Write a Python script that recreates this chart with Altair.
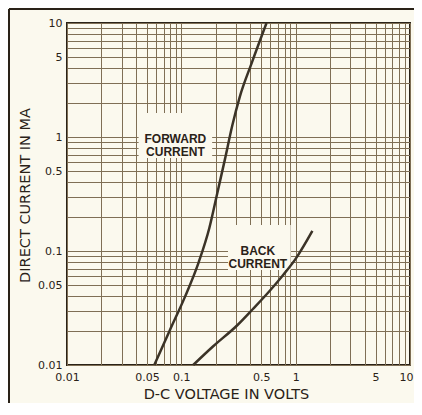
import json
import altair as alt
import pandas as pd

# ---- data ----
forward_v = [0.058, 0.079, 0.108, 0.142, 0.176, 0.206, 0.240, 0.279, 0.324, 0.413, 0.556]
forward_i = [0.01, 0.02, 0.04, 0.08, 0.16, 0.32, 0.63, 1.26, 2.24, 4.47, 10]

back_v = [0.127, 0.19, 0.307, 0.423, 0.594, 0.771, 1.02, 1.4]
back_i = [0.01, 0.0146, 0.0222, 0.031, 0.0448, 0.061, 0.088, 0.15]

grid_values = [0.01, 0.02, 0.03, 0.04, 0.05, 0.06, 0.07, 0.08, 0.09,
               0.1, 0.2, 0.3, 0.4, 0.5, 0.6, 0.7, 0.8, 0.9,
               1, 2, 3, 4, 5, 6, 7, 8, 9, 10]
label_values = [0.01, 0.05, 0.1, 0.5, 1, 5, 10]

label_texts = ["FORWARD\nCURRENT", "BACK\nCURRENT"]
label_x = [0.0887, 0.467]
label_y = [0.97, 0.101]
box_x1 = [0.0423, 0.256]
box_x2 = [0.186, 0.905]
box_y1 = [0.655, 0.068]
box_y2 = [1.62, 0.169]

x_title = "D-C VOLTAGE IN VOLTS"
y_title = "DIRECT CURRENT IN MA"

# ---- styles ----
BG = "#fbf9ee"
INK = "#2a2218"
GRID = "#7f6f55"
CURVE = "#3b3327"
FONT = "DejaVu Sans"

curves = pd.DataFrame({
    "v": forward_v + back_v,
    "i": forward_i + back_i,
    "series": ["forward"] * len(forward_v) + ["back"] * len(back_v),
})
labels = pd.DataFrame({"text": label_texts, "x": label_x, "y": label_y})
boxes = pd.DataFrame({"x1": box_x1, "x2": box_x2, "y1": box_y1, "y2": box_y2})

label_expr = "indexof(" + json.dumps(label_values) + ", datum.value) >= 0 ? '' + datum.value : ''"

xscale = alt.Scale(type="log", domain=[0.01, 10], nice=False)
yscale = alt.Scale(type="log", domain=[0.01, 10], nice=False)

x_axis = alt.Axis(values=grid_values, grid=True, gridColor=GRID, gridWidth=1, gridOpacity=1,
                  ticks=False, domain=False, labelExpr=label_expr, labelOverlap=False,
                  labelFlush=False, labelPadding=6, labelFont=FONT, labelFontSize=11,
                  labelColor=INK,
                  labelAlign={"condition": {"test": "datum.value >= 10", "value": "right"}, "value": "center"},
                  labelOffset={"condition": {"test": "datum.value >= 10", "value": 3}, "value": 0},
                  title=x_title, titleFont=FONT, titleFontSize=14.5,
                  titleFontWeight="normal", titleColor=INK, titleX=159, titleY=29,
                  titleAlign="center", titleBaseline="middle")
y_axis = alt.Axis(values=grid_values, grid=True, gridColor=GRID, gridWidth=1, gridOpacity=1,
                  ticks=False, domain=False, labelExpr=label_expr, labelOverlap=False,
                  labelFlush=False, labelPadding=5, labelFont=FONT, labelFontSize=11,
                  labelColor=INK, title=y_title, titleFont=FONT, titleFontSize=14.5,
                  titleFontWeight="normal", titleColor=INK, titleX=-42, titleY=172,
                  titleAngle=270, titleAlign="center", titleBaseline="middle")

box_layer = alt.Chart(boxes).mark_rect(fill=BG).encode(
    x=alt.X("x1:Q", scale=xscale, axis=x_axis),
    x2="x2:Q",
    y=alt.Y("y1:Q", scale=yscale, axis=y_axis),
    y2="y2:Q",
)

curve_layer = alt.Chart(curves).mark_line(color=CURVE, strokeWidth=2.5, interpolate="monotone").encode(
    x=alt.X("v:Q", scale=xscale),
    y=alt.Y("i:Q", scale=yscale),
    detail="series:N",
)

text_layer = alt.Chart(labels).mark_text(font="Liberation Sans", fontWeight="bold", fontSize=12,
                                         color=INK, align="center", baseline="middle",
                                         lineBreak="\n", lineHeight=13).encode(
    x=alt.X("x:Q", scale=xscale),
    y=alt.Y("y:Q", scale=yscale),
    text="text:N",
)

one = alt.Data(values=[{}])
frame_top = alt.Chart(one).mark_rule(color=INK, strokeWidth=2).encode(
    x=alt.value(-58), x2=alt.value(347), y=alt.value(-14))
frame_left = alt.Chart(one).mark_rule(color=INK, strokeWidth=2).encode(
    x=alt.value(-58), y=alt.value(-14), y2=alt.value(380))

chart = alt.layer(box_layer, curve_layer, text_layer, frame_top, frame_left).properties(
    width=343, height=342,
    autosize=alt.AutoSizeParams(type="none"),
    padding={"left": 59, "top": 15, "right": 4, "bottom": 38},
    background=BG,
).configure_view(stroke=INK, strokeWidth=2)

chart.save("out.html", embed_options={"renderer": "svg", "actions": False})
